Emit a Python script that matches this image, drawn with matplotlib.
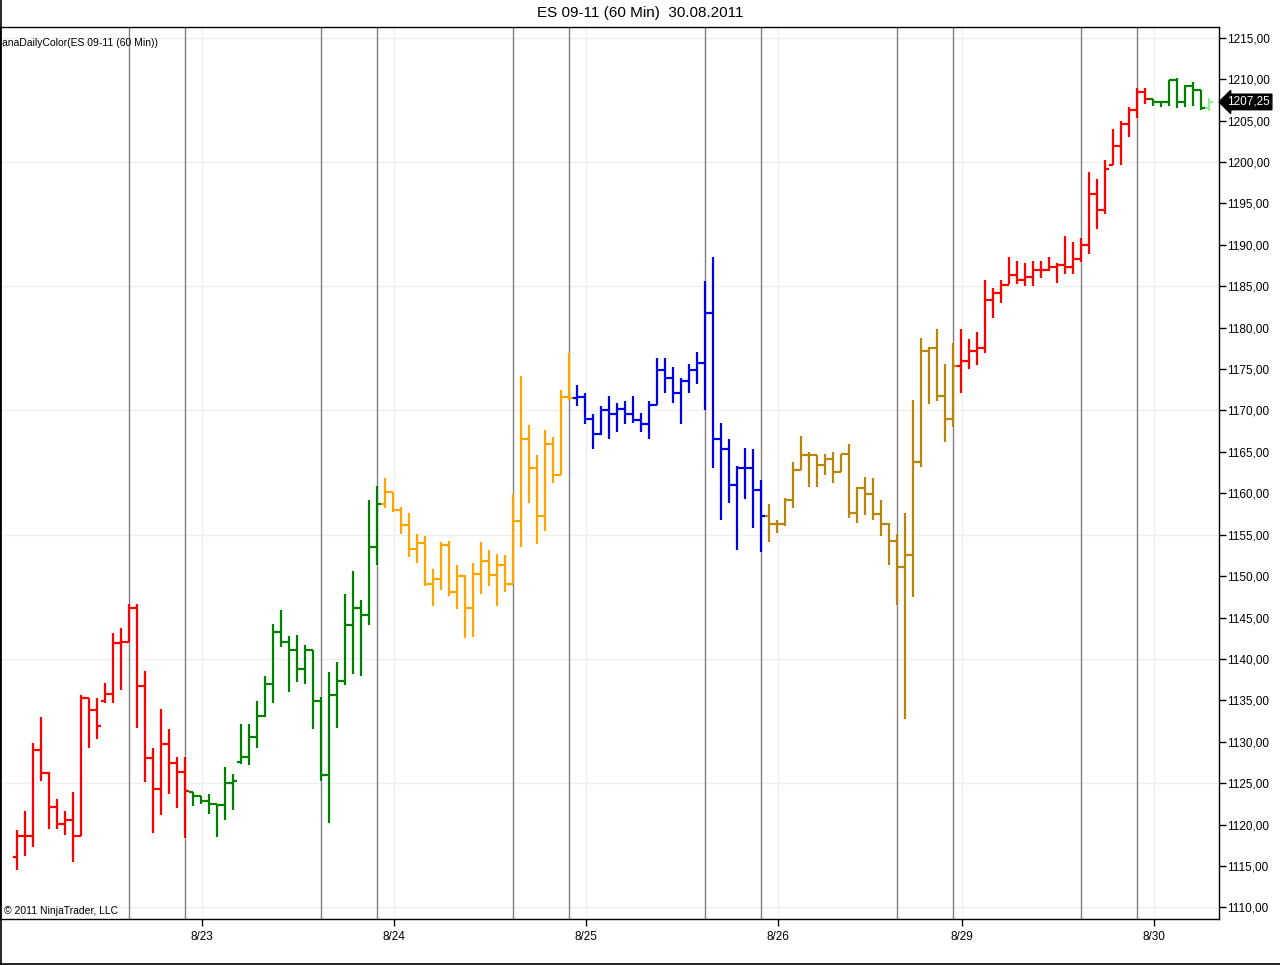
import matplotlib
matplotlib.use("Agg")
import matplotlib.pyplot as plt
from matplotlib.lines import Line2D

plt.rcParams['font.family'] = ['Liberation Sans', 'DejaVu Sans']

# hourly ES 09-11 bars, 22.08 - 30.08.2011
opens = [1116.1, 1118.6, 1118.6, 1129.0, 1126.2, 1122.1, 1120.1, 1120.6, 1118.6, 1135.3,
         1133.8, 1134.9, 1135.8, 1141.9, 1142.1, 1146.1, 1136.7, 1128.0, 1124.3, 1129.7,
         1127.4, 1126.3, 1123.9, 1123.5, 1122.9, 1122.5, 1122.4, 1125.0, 1127.5, 1128.2,
         1130.6, 1133.1, 1137.0, 1143.3, 1142.1, 1141.1, 1138.8, 1141.1, 1134.9, 1126.0,
         1135.7, 1137.3, 1144.1, 1146.1, 1145.3, 1153.5, 1158.7, 1160.1, 1158.0, 1156.2,
         1153.3, 1154.0, 1149.1, 1149.7, 1153.7, 1148.1, 1150.0, 1146.1, 1150.3, 1151.8,
         1150.1, 1151.3, 1149.0, 1156.6, 1166.6, 1163.1, 1157.2, 1165.9, 1162.2, 1171.6,
         1171.5, 1171.6, 1169.0, 1167.2, 1170.1, 1169.6, 1170.2, 1169.6, 1168.9, 1168.4,
         1170.7, 1174.9, 1173.9, 1172.1, 1173.5, 1174.9, 1175.7, 1181.8, 1166.5, 1165.3,
         1161.0, 1163.0, 1163.0, 1160.4, 1157.2, 1156.3, 1156.3, 1159.2, 1162.8, 1164.6,
         1164.6, 1163.4, 1164.1, 1162.6, 1164.8, 1157.6, 1160.6, 1159.9, 1157.5, 1156.3,
         1154.3, 1151.1, 1152.5, 1163.8, 1177.2, 1177.6, 1171.8, 1169.0, 1175.4, 1176.0,
         1177.2, 1177.6, 1183.3, 1184.2, 1185.2, 1186.4, 1185.8, 1186.1, 1186.9, 1187.0,
         1187.3, 1187.6, 1187.3, 1188.3, 1190.0, 1196.1, 1194.2, 1199.6, 1201.9, 1204.6,
         1206.3, 1208.5, 1207.6, 1207.2, 1207.2, 1209.9, 1207.2, 1209.2, 1208.7, 1206.5]
highs = [1119.4, 1121.7, 1129.9, 1133.0, 1126.4, 1123.1, 1121.7, 1123.9, 1135.6, 1135.3,
         1135.3, 1137.1, 1143.1, 1143.7, 1146.6, 1146.6, 1138.6, 1129.2, 1133.9, 1131.6,
         1128.1, 1128.2, 1123.9, 1123.5, 1123.7, 1122.5, 1127.0, 1126.1, 1132.1, 1132.1,
         1134.9, 1137.9, 1144.2, 1145.9, 1142.8, 1142.9, 1141.7, 1141.1, 1135.4, 1138.4,
         1139.6, 1147.9, 1150.6, 1147.1, 1159.2, 1160.9, 1161.8, 1160.1, 1158.4, 1157.6,
         1155.1, 1154.9, 1150.8, 1154.1, 1154.3, 1151.4, 1150.1, 1151.6, 1154.1, 1153.1,
         1152.7, 1152.5, 1159.9, 1174.2, 1168.2, 1164.6, 1167.6, 1166.8, 1172.5, 1176.9,
         1173.1, 1172.1, 1169.6, 1170.5, 1171.7, 1170.9, 1171.1, 1171.7, 1169.7, 1171.1,
         1176.3, 1176.3, 1175.3, 1173.9, 1175.6, 1177.0, 1185.6, 1188.5, 1168.5, 1166.6,
         1163.3, 1165.5, 1165.3, 1161.6, 1158.7, 1156.8, 1159.4, 1163.8, 1166.9, 1165.0,
         1164.6, 1164.8, 1165.0, 1164.8, 1166.0, 1160.8, 1162.0, 1161.8, 1159.2, 1156.4,
         1155.1, 1157.6, 1171.3, 1178.8, 1177.7, 1179.8, 1175.6, 1178.1, 1179.8, 1178.6,
         1179.5, 1185.8, 1184.8, 1185.8, 1188.5, 1188.0, 1187.8, 1188.0, 1188.0, 1188.5,
         1187.8, 1191.1, 1190.3, 1190.8, 1198.8, 1197.9, 1200.2, 1204.0, 1205.0, 1206.6,
         1208.9, 1208.9, 1207.6, 1207.4, 1209.9, 1210.2, 1209.3, 1209.7, 1208.7, 1207.7]
lows = [1114.5, 1116.2, 1117.3, 1125.3, 1119.5, 1119.5, 1118.7, 1115.5, 1118.6, 1129.3,
        1130.3, 1134.7, 1134.7, 1136.3, 1142.1, 1131.7, 1125.1, 1119.0, 1121.1, 1123.7,
        1122.0, 1118.4, 1122.3, 1122.5, 1121.3, 1118.5, 1120.5, 1121.8, 1127.3, 1127.2,
        1129.3, 1133.0, 1134.7, 1141.5, 1136.0, 1137.2, 1137.0, 1131.5, 1125.3, 1120.2,
        1131.7, 1136.8, 1138.2, 1138.0, 1144.1, 1151.4, 1158.2, 1157.8, 1155.1, 1152.3,
        1151.6, 1148.8, 1146.4, 1148.3, 1147.6, 1146.0, 1142.5, 1142.7, 1147.8, 1148.8,
        1146.4, 1148.1, 1149.0, 1153.5, 1158.8, 1153.9, 1155.5, 1161.2, 1162.2, 1171.3,
        1170.5, 1168.4, 1165.4, 1167.0, 1166.5, 1167.4, 1168.4, 1168.5, 1167.4, 1166.5,
        1170.7, 1172.1, 1170.9, 1168.4, 1172.1, 1173.2, 1170.1, 1163.0, 1156.8, 1158.8,
        1153.2, 1159.3, 1155.8, 1152.9, 1154.1, 1155.2, 1156.0, 1158.2, 1162.8, 1160.7,
        1160.7, 1162.2, 1161.2, 1162.6, 1157.0, 1156.4, 1157.4, 1156.8, 1154.9, 1151.3,
        1146.5, 1132.8, 1147.5, 1163.2, 1170.8, 1171.2, 1166.2, 1168.0, 1172.1, 1175.0,
        1175.5, 1176.9, 1181.2, 1183.0, 1185.3, 1185.3, 1185.0, 1185.0, 1186.0, 1186.8,
        1185.4, 1186.5, 1186.5, 1187.9, 1188.9, 1191.9, 1193.7, 1199.6, 1199.6, 1203.0,
        1205.3, 1207.0, 1206.8, 1206.6, 1206.8, 1206.5, 1206.6, 1206.8, 1206.3, 1206.2]
closes = [1118.6, 1118.6, 1129.0, 1126.2, 1122.1, 1120.1, 1120.6, 1118.6, 1135.3, 1133.8,
          1131.9, 1135.8, 1141.9, 1142.1, 1146.1, 1136.7, 1128.0, 1124.3, 1129.7, 1127.4,
          1126.3, 1124.1, 1123.5, 1122.9, 1122.5, 1122.4, 1125.0, 1125.3, 1128.2, 1130.6,
          1133.1, 1137.0, 1143.3, 1142.1, 1141.1, 1138.8, 1141.1, 1134.9, 1126.0, 1135.7,
          1137.3, 1144.1, 1146.1, 1145.3, 1153.5, 1158.7, 1160.1, 1158.0, 1156.2, 1153.3,
          1154.0, 1149.1, 1149.7, 1153.7, 1148.1, 1150.0, 1146.1, 1150.3, 1151.8, 1150.1,
          1151.3, 1149.0, 1156.6, 1166.6, 1163.1, 1157.2, 1165.9, 1162.2, 1171.6, 1171.5,
          1171.6, 1169.0, 1167.2, 1170.1, 1169.6, 1170.2, 1169.6, 1168.9, 1168.4, 1170.7,
          1174.9, 1173.9, 1172.1, 1173.5, 1174.9, 1175.7, 1181.8, 1166.5, 1165.3, 1161.0,
          1163.0, 1163.0, 1160.4, 1157.2, 1156.3, 1156.3, 1159.2, 1162.8, 1164.6, 1164.6,
          1163.4, 1164.1, 1162.6, 1164.8, 1157.6, 1160.6, 1159.9, 1157.5, 1156.3, 1154.3,
          1151.1, 1152.5, 1163.8, 1177.2, 1177.6, 1171.8, 1169.0, 1175.4, 1176.0, 1177.2,
          1177.6, 1183.3, 1184.2, 1185.2, 1186.4, 1185.8, 1186.1, 1186.9, 1187.0, 1187.3,
          1187.6, 1187.3, 1188.3, 1190.0, 1196.1, 1194.2, 1199.1, 1201.9, 1204.6, 1206.3,
          1208.5, 1207.6, 1207.2, 1207.2, 1209.9, 1207.2, 1209.2, 1208.7, 1206.5, 1207.25]

# bars per colour block (one block per trading session)
session_sizes = [22, 24, 24, 24, 24, 24, 8]
session_colors = ['#FF0000', '#008000', '#FFA500', '#0000E6', '#B8860B', '#FF0000', '#008000']
last_bar_color = '#90EE90'

session_lines = [14, 21, 38, 45, 62, 69, 86, 93, 110, 117, 133, 140]
date_pos = [23.2, 47.2, 71.2, 95.2, 118.2, 142.2]
date_labels = ['8/23', '8/24', '8/25', '8/26', '8/29', '8/30']
last_price = 1207.25

colors = []
for n, c in zip(session_sizes, session_colors):
    colors += [c] * n
colors[-1] = last_bar_color

fig = plt.figure(figsize=(12.8, 9.65), dpi=100)
ax = fig.add_axes([0.0, 1 - 919 / 965, 1219 / 1280, (919 - 27) / 965])

# grid
for p in range(1110, 1216, 15):
    ax.axhline(p, color='#EFEFEF', lw=1, zorder=0)
for d in date_pos:
    ax.axvline(d, color='#EFEFEF', lw=1, zorder=0)
for s in session_lines:
    ax.axvline(s, color='#808080', lw=1, zorder=1)

# OHLC bars
idx = list(range(len(closes)))
ax.vlines(idx, lows, highs, colors=colors, lw=1.6, zorder=3)
ax.hlines(opens, [i - 0.5 for i in idx], idx, colors=colors, lw=1.6, zorder=3)
ax.hlines(closes, idx, [i + 0.5 for i in idx], colors=colors, lw=1.6, zorder=3)

ax.set_xlim(-2.1, 150.3)
ax.set_ylim(1108.6, 1216.3)

ax.yaxis.tick_right()
ax.set_yticks(range(1110, 1216, 5))
ax.set_yticklabels([f"{v},00" for v in range(1110, 1216, 5)])
ax.set_xticks(date_pos)
ax.set_xticklabels(date_labels)
ax.tick_params(axis='both', labelsize=8.5, length=5, width=1, direction='out', color='black')
ax.tick_params(axis='y', pad=1)
for sp in ax.spines.values():
    sp.set_linewidth(1)

ax.text(2 / 1219, 1 - 11 / 892, 'anaDailyColor(ES 09-11 (60 Min))', transform=ax.transAxes,
        fontsize=7.5, va='top', ha='left')
ax.text(4 / 1219, 3 / 892, '\u00a9 2011 NinjaTrader, LLC', transform=ax.transAxes,
        fontsize=7.5, va='bottom', ha='left')

ax.annotate(f"{last_price:.2f}".replace('.', ','), xy=(1.0, last_price),
            xycoords=('axes fraction', 'data'), xytext=(6, 0), textcoords='offset points',
            va='center', ha='left', color='white', fontsize=8.5,
            bbox=dict(boxstyle='larrow,pad=0.15', fc='black', ec='black'))

fig.suptitle('ES 09-11 (60 Min)  30.08.2011', y=1 - 13 / 965, va='center', fontsize=11)

fig.add_artist(Line2D([0.0005, 0.0005], [0, 1], color='black', lw=1.2, transform=fig.transFigure))
fig.add_artist(Line2D([0, 1], [0.0015, 0.0015], color='black', lw=1.2, transform=fig.transFigure))

fig.savefig('out.png', dpi=100)
